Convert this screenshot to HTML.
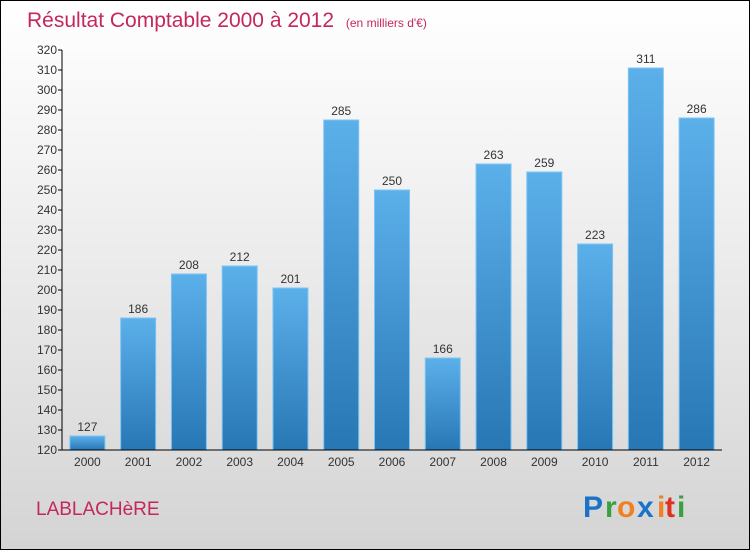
<!DOCTYPE html>
<html><head><meta charset="utf-8"><style>
body{margin:0}
#c{position:relative;width:748px;height:548px;border:1px solid #000;background:linear-gradient(#ffffff,#f3f3f3 30%,#d4d4d4);font-family:"Liberation Sans",sans-serif;overflow:hidden}
</style></head><body>
<div id="c">
<svg width="748" height="548" style="position:absolute;left:0;top:0" id="svg">
<defs>
<linearGradient id="bg" x1="0" y1="0" x2="0" y2="1"><stop offset="0" stop-color="#5cb0ea"/><stop offset="1" stop-color="#2777b5"/></linearGradient>
</defs>
<text x="26" y="26" font-size="21" fill="#c4285a">Résultat Comptable 2000 à 2012 <tspan font-size="12" dx="6">(en milliers d'€)</tspan></text>
<text x="35" y="514" font-size="19" fill="#c4285a">LABLACHèRE</text>
<g font-size="30" font-weight="bold" font-family="'Liberation Sans',sans-serif">
<text x="582" y="516" fill="#1a73c8">P</text><text x="604" y="516" fill="#3aa040">r</text><text x="616" y="516" fill="#f08020">o</text><text x="636" y="516" fill="#1a73c8">x</text><text x="656" y="516" fill="#f08020">i</text><text x="664" y="516" fill="#e03020">t</text><text x="676" y="516" fill="#3aa040">i</text>
</g>
<g id="plot"></g>
</svg>
</div>
<script>
const categories=["2000","2001","2002","2003","2004","2005","2006","2007","2008","2009","2010","2011","2012"];
const values=[127,186,208,212,201,285,250,166,263,259,223,311,286];
const yTicks=[120,130,140,150,160,170,180,190,200,210,220,230,240,250,260,270,280,290,300,310,320];
const NS="http://www.w3.org/2000/svg";
const g=document.getElementById('plot');
const x0=61,x1=721,yMin=120,yMax=320,yTop=49,yBot=449;
const y=v=>yBot-(v-yMin)/(yMax-yMin)*(yBot-yTop);
const step=(x1-x0)/categories.length;
const xc=i=>x0+step*(i+0.5);
function mk(t,a,txt){const e=document.createElementNS(NS,t);for(const k in a)e.setAttribute(k,a[k]);if(txt!==undefined)e.textContent=txt;g.appendChild(e);return e;}
yTicks.forEach(v=>{
  const l=mk('line',{x1:x0-4,x2:x0,y1:y(v),y2:y(v),stroke:'#000'});
  
  
  const t=mk('text',{x:x0-5,y:y(v)+4,'text-anchor':'end','font-size':12,fill:'#333'},v);
  
  
});
values.forEach((v,i)=>{
  const r=mk('rect',{x:xc(i)-17.5,y:y(v),width:35,height:yBot-y(v),fill:'url(#bg)',stroke:'#7cc4f4','stroke-width':1});
  
  
  const t=mk('text',{x:xc(i),y:y(v)-5,'text-anchor':'middle','font-size':12,fill:'#333'},v);
  
  
  const c=mk('text',{x:xc(i),y:yBot+16,'text-anchor':'middle','font-size':12,fill:'#333'},categories[i]);
  
  
});
const ya=mk('line',{x1:x0,x2:x0,y1:yTop,y2:yBot,stroke:'#000'});


const xa=mk('line',{x1:x0,x2:x1,y1:yBot,y2:yBot,stroke:'#000'});


</script>
</body></html>
